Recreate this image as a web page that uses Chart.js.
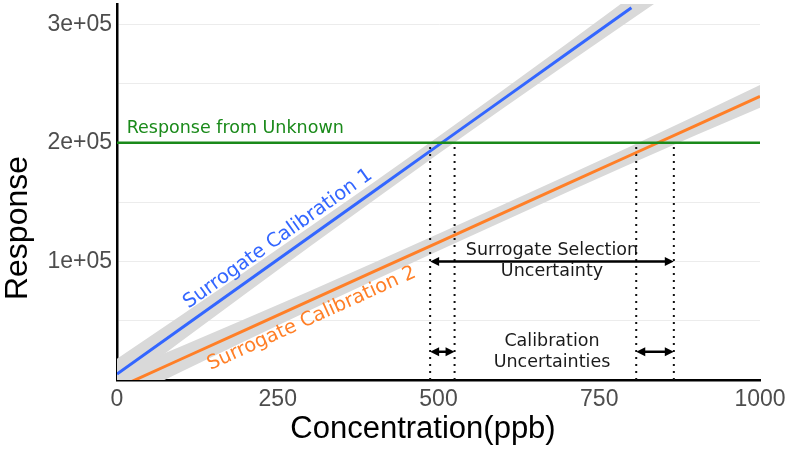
<!DOCTYPE html>
<html>
<head>
<meta charset="utf-8">
<script src="https://cdn.jsdelivr.net/npm/chart.js@4/dist/chart.umd.min.js"></script>
<style>
  html, body { margin: 0; padding: 0; background: #ffffff; }
  #wrap { width: 789px; height: 450px; position: relative; }
</style>
</head>
<body>
<div id="wrap"><canvas id="c"></canvas></div>
<script>
// ---- data ----
const concBlue = [0, 100, 200, 300, 400, 500, 600, 700, 800];
const respBlue = [5000, 43600, 82200, 120800, 159400, 198000, 236600, 275200, 313800];
const concBlueBand = [0, 100, 200, 300, 400, 500, 600, 700, 800, 900];
const blueBandLow  = [-8000, 32600, 72700, 112500, 151800, 190700, 229000, 266700, 304000, 341000];
const blueBandHigh = [18000, 54600, 91700, 129100, 167000, 205300, 244200, 283700, 323600, 364000];

const concOrange = [0, 100, 200, 300, 400, 500, 600, 700, 800, 900, 1000];
const respOrange = [-6900, 17700, 42300, 66900, 91500, 116100, 140700, 165300, 189900, 214500, 239100];
const orangeBandLow  = [-19400, 6900, 33000, 58700, 84000, 109000, 133700, 158200, 182500, 206300, 229500];
const orangeBandHigh = [5600, 28500, 51600, 75100, 99000, 123200, 147700, 172400, 197300, 222700, 248700];

const unknownConc = [0, 1000];
const unknownResp = [200000, 200000];

const dottedX = [487, 525, 807.5, 866];
const dottedY = [0, 200000];

const arrowStart = [487, 487, 807.5];
const arrowEnd   = [866, 525, 866];
const arrowY     = [100000, 23800, 23800];

const xTickValues = [0, 250, 500, 750, 1000];
const yGridValues = [0, 50000, 100000, 150000, 200000, 250000, 300000];
const yTickValues = [100000, 200000, 300000];
const yTickLabels = ['1e+05', '2e+05', '3e+05'];

const noteTexts = [['Response from Unknown'], ['Surrogate Selection', 'Uncertainty'], ['Calibration', 'Uncertainties']];
const noteX = [15, 667, 667];
const noteY = [208000, 105500, 29000];

const lineLabelTexts = ['Surrogate Calibration 1', 'Surrogate Calibration 2'];
const lineLabelX = [255, 306];
const lineLabelY = [115500, 47900];

// ---- styles ----
const BLUE = '#3366ff', ORANGE = '#ff7f27', GREEN = '#1a8a1a', BAND = '#d9d9d9';
const pts = (xs, ys) => xs.map((v, i) => ({x: v, y: ys[i]}));

const datasets = [
  {data: pts(concBlue, respBlue), borderColor: BLUE, borderWidth: 3, order: 1, clip: 0},
  {data: pts(concOrange, respOrange), borderColor: ORANGE, borderWidth: 3, order: 1, clip: 0},
  {data: pts(unknownConc, unknownResp), borderColor: GREEN, borderWidth: 2.5, order: 0, clip: 0},
  {data: pts(concBlueBand, blueBandLow), borderColor: 'transparent', borderWidth: 0, order: 20, fill: false},
  {data: pts(concBlueBand, blueBandHigh), borderColor: 'transparent', borderWidth: 0, order: 20, fill: '-1', backgroundColor: BAND},
  {data: pts(concOrange, orangeBandLow), borderColor: 'transparent', borderWidth: 0, order: 20, fill: false},
  {data: pts(concOrange, orangeBandHigh), borderColor: 'transparent', borderWidth: 0, order: 20, fill: '-1', backgroundColor: BAND}
];
dottedX.forEach(v => datasets.push({
  data: pts([v, v], dottedY), borderColor: '#111', borderWidth: 2, borderDash: [2, 5], order: 2, clip: 0
}));

function drawArrow(ctx, x0, x1, yy) {
  const hl = 9, hw = 4.5;
  ctx.strokeStyle = '#000'; ctx.fillStyle = '#000'; ctx.lineWidth = 2.5;
  ctx.setLineDash([]);
  ctx.beginPath(); ctx.moveTo(x0 + hl - 1, yy); ctx.lineTo(x1 - hl + 1, yy); ctx.stroke();
  ctx.beginPath(); ctx.moveTo(x0, yy); ctx.lineTo(x0 + hl, yy - hw); ctx.lineTo(x0 + hl, yy + hw); ctx.closePath(); ctx.fill();
  ctx.beginPath(); ctx.moveTo(x1, yy); ctx.lineTo(x1 - hl, yy - hw); ctx.lineTo(x1 - hl, yy + hw); ctx.closePath(); ctx.fill();
}

const annot = {
  id: 'annot',
  afterDatasetsDraw(chart) {
    const {ctx, scales: {x, y}} = chart;
    ctx.save();
    arrowStart.forEach((a, i) => drawArrow(ctx, x.getPixelForValue(a), x.getPixelForValue(arrowEnd[i]), y.getPixelForValue(arrowY[i])));

    // notes
    ctx.textBaseline = 'alphabetic';
    ctx.font = '17.5px "DejaVu Sans"';
    noteTexts.forEach((lines, i) => {
      const px = x.getPixelForValue(noteX[i]);
      const py = y.getPixelForValue(noteY[i]);
      if (i === 0) { ctx.fillStyle = GREEN; ctx.textAlign = 'left'; }
      else { ctx.fillStyle = '#1a1a1a'; ctx.textAlign = 'center'; }
      const cx = i === 0 ? px : (x.getPixelForValue(arrowStart[0]) + x.getPixelForValue(arrowEnd[0])) / 2;
      lines.forEach((t, k) => ctx.fillText(t, cx, py + k * 21.5));
    });

    // rotated line labels
    const series = [[concBlue, respBlue, BLUE], [concOrange, respOrange, ORANGE]];
    ctx.font = '19.5px "DejaVu Sans"';
    ctx.textAlign = 'center';
    series.forEach((s, i) => {
      const [cx, cy, col] = s;
      const n = cx.length - 1;
      const ang = Math.atan2(y.getPixelForValue(cy[n]) - y.getPixelForValue(cy[0]), x.getPixelForValue(cx[n]) - x.getPixelForValue(cx[0]));
      ctx.save();
      ctx.translate(x.getPixelForValue(lineLabelX[i]), y.getPixelForValue(lineLabelY[i]));
      ctx.rotate(ang);
      ctx.fillStyle = col;
      ctx.fillText(lineLabelTexts[i], 0, 0);
      ctx.restore();
    });

    // axis titles
    ctx.fillStyle = '#000';
    ctx.font = '31px "Liberation Sans", Arial, sans-serif';
    ctx.textAlign = 'center';
    ctx.fillText('Concentration(ppb)', 423, 438);
    ctx.save();
    ctx.translate(27, 228);
    ctx.rotate(-Math.PI / 2);
    ctx.font = '32px "Liberation Sans", Arial, sans-serif';
    ctx.fillText('Response', 0, 0);
    ctx.restore();
    ctx.restore();
  }
};

new Chart(document.getElementById('c'), {
  type: 'line',
  data: {datasets},
  options: {
    responsive: true,
    maintainAspectRatio: false,
    animation: false,
    events: [],
    layout: {padding: {top: 4, right: 29, left: 0, bottom: 0}},
    elements: {point: {radius: 0}, line: {tension: 0, borderCapStyle: 'butt'}},
    plugins: {legend: {display: false}, tooltip: {enabled: false}},
    scales: {
      x: {
        type: 'linear', min: 0, max: 1000,
        afterFit: s => { s.height = 70; s.paddingLeft = 0; s.paddingRight = 0; },
        afterBuildTicks: s => { s.ticks = xTickValues.map(v => ({value: v})); },
        grid: {display: false, drawTicks: false},
        border: {display: true, color: '#000', width: 2.5},
        ticks: {color: '#4d4d4d', padding: 6, maxRotation: 0, autoSkip: false,
                font: {family: '"Liberation Sans", Arial, sans-serif', size: 23},
                callback: v => String(v)}
      },
      y: {
        type: 'linear', min: 0, max: 317000,
        afterFit: s => { s.width = 117; s.paddingTop = 0; s.paddingBottom = 0; },
        afterBuildTicks: s => { s.ticks = yGridValues.map(v => ({value: v})); },
        grid: {color: '#ececec', lineWidth: 1, drawTicks: false},
        border: {display: true, color: '#000', width: 2.5},
        ticks: {color: '#4d4d4d', padding: 5, autoSkip: false,
                font: {family: '"Liberation Sans", Arial, sans-serif', size: 23},
                callback: v => { const k = yTickValues.indexOf(v); return k >= 0 ? yTickLabels[k] : ''; }}
      }
    }
  },
  plugins: [annot]
});
</script>
</body>
</html>
